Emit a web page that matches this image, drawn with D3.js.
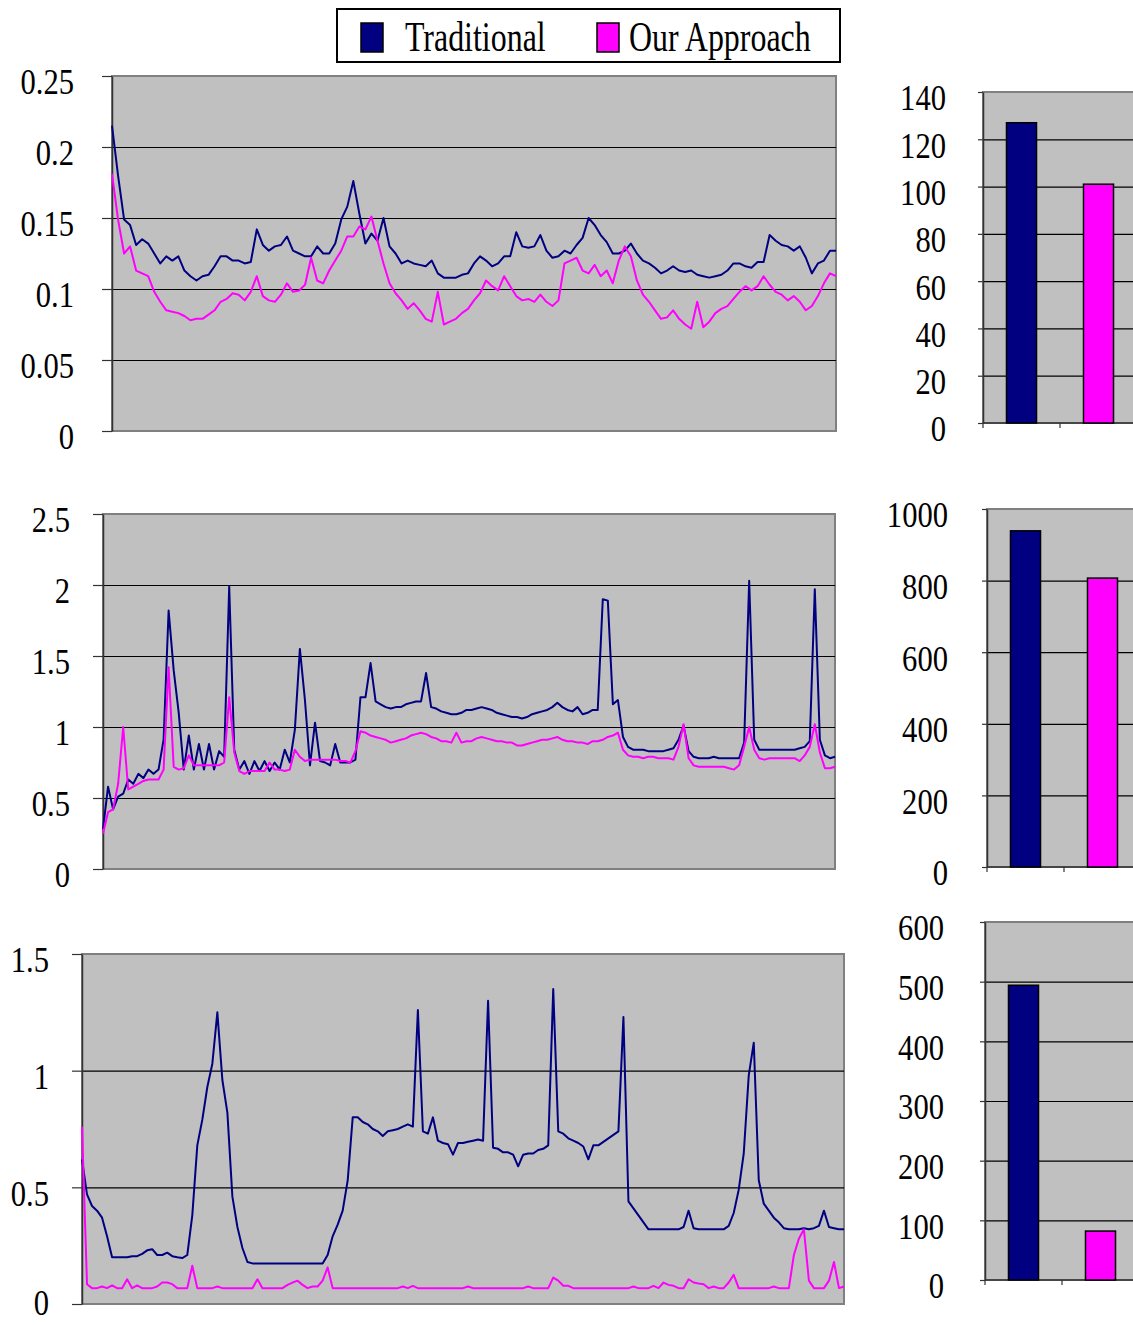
<!DOCTYPE html>
<html>
<head>
<meta charset="utf-8">
<script src="https://cdn.jsdelivr.net/npm/d3@7"></script>
<style>
  body { margin: 0; padding: 0; background: #fff; }
  text { font-family: "Liberation Serif", "Times New Roman", "DejaVu Serif", serif; fill: #000; }
</style>
</head>
<body>
<script>
// series names / colours for the legend
var seriesNames = ["Traditional", "Our Approach"];
var seriesColors = ["#000080", "#ff00ff"];

// top panel (0 - 0.25)
var trad1 = [0.215,0.18,0.149,0.145,0.131,0.135,0.132,0.125,0.118,0.123,
  0.12,0.123,0.113,0.109,0.106,0.109,0.11,0.116,0.123,0.123,
  0.12,0.12,0.118,0.119,0.142,0.131,0.127,0.13,0.131,0.137,
  0.127,0.125,0.123,0.123,0.13,0.125,0.125,0.132,0.149,0.158,
  0.176,0.153,0.132,0.139,0.134,0.15,0.13,0.125,0.118,0.12,
  0.118,0.117,0.116,0.12,0.111,0.108,0.108,0.108,0.11,0.111,
  0.118,0.123,0.12,0.116,0.118,0.123,0.123,0.14,0.13,0.129,
  0.13,0.138,0.127,0.122,0.123,0.127,0.125,0.131,0.136,0.15,
  0.145,0.138,0.133,0.125,0.125,0.127,0.132,0.125,0.12,0.118,
  0.115,0.111,0.113,0.116,0.113,0.112,0.113,0.11,0.109,0.108,
  0.109,0.11,0.113,0.118,0.118,0.116,0.115,0.119,0.119,0.138,
  0.134,0.131,0.13,0.127,0.13,0.122,0.111,0.118,0.12,0.127,
  0.127];
var ours1 = [0.181,0.149,0.125,0.13,0.113,0.111,0.109,0.098,0.091,0.085,
  0.084,0.083,0.081,0.078,0.079,0.079,0.082,0.085,0.091,0.093,
  0.097,0.096,0.092,0.098,0.109,0.095,0.092,0.091,0.096,0.104,
  0.098,0.099,0.103,0.122,0.106,0.104,0.113,0.12,0.127,0.137,
  0.137,0.144,0.142,0.151,0.134,0.118,0.104,0.097,0.092,0.086,
  0.09,0.085,0.079,0.077,0.098,0.075,0.077,0.079,0.083,0.086,
  0.092,0.097,0.106,0.102,0.099,0.109,0.102,0.095,0.092,0.093,
  0.091,0.096,0.091,0.088,0.092,0.118,0.12,0.122,0.113,0.111,
  0.117,0.109,0.113,0.104,0.12,0.13,0.123,0.106,0.096,0.091,
  0.085,0.079,0.08,0.085,0.079,0.075,0.072,0.091,0.073,0.077,
  0.083,0.086,0.088,0.093,0.098,0.102,0.099,0.102,0.109,0.103,
  0.098,0.096,0.092,0.095,0.091,0.085,0.088,0.095,0.104,0.111,
  0.109];
var ticks1 = [0, 0.05, 0.1, 0.15, 0.2, 0.25];

// middle panel (0 - 2.5)
var trad2 = [0.28,0.58,0.42,0.51,0.53,0.63,0.6,0.67,0.64,0.7,
  0.67,0.7,0.91,1.82,1.4,1.1,0.7,0.94,0.7,0.88,
  0.7,0.88,0.7,0.83,0.79,1.99,0.84,0.7,0.76,0.67,
  0.76,0.69,0.76,0.69,0.75,0.7,0.84,0.75,0.98,1.55,
  1.19,0.73,1.03,0.76,0.75,0.73,0.88,0.75,0.75,0.75,
  0.77,1.21,1.21,1.45,1.18,1.16,1.14,1.13,1.14,1.14,
  1.16,1.17,1.18,1.18,1.38,1.14,1.13,1.11,1.1,1.09,
  1.09,1.1,1.12,1.12,1.13,1.14,1.13,1.12,1.1,1.09,
  1.08,1.07,1.07,1.06,1.07,1.09,1.1,1.11,1.12,1.14,
  1.17,1.14,1.12,1.11,1.14,1.09,1.1,1.12,1.12,1.9,
  1.89,1.16,1.19,0.93,0.86,0.84,0.84,0.84,0.83,0.83,
  0.83,0.83,0.84,0.85,0.91,1.01,0.83,0.79,0.78,0.78,
  0.78,0.79,0.78,0.78,0.78,0.78,0.78,0.89,2.03,0.91,
  0.84,0.84,0.84,0.84,0.84,0.84,0.84,0.84,0.85,0.86,
  0.9,1.97,0.91,0.8,0.78,0.79];
var ours2 = [0.25,0.4,0.42,0.6,1.0,0.56,0.58,0.6,0.62,0.63,
  0.63,0.63,0.7,1.42,0.72,0.7,0.71,0.8,0.73,0.73,
  0.73,0.73,0.73,0.73,0.75,1.21,0.82,0.69,0.67,0.69,
  0.69,0.69,0.69,0.75,0.7,0.7,0.69,0.7,0.84,0.79,
  0.76,0.77,0.77,0.77,0.77,0.77,0.77,0.76,0.76,0.75,
  0.83,0.97,0.96,0.94,0.93,0.92,0.91,0.89,0.9,0.91,
  0.92,0.94,0.95,0.96,0.95,0.93,0.92,0.9,0.9,0.89,
  0.96,0.89,0.9,0.9,0.92,0.93,0.92,0.91,0.9,0.9,
  0.89,0.89,0.87,0.87,0.88,0.89,0.9,0.91,0.91,0.92,
  0.93,0.91,0.9,0.9,0.89,0.89,0.88,0.9,0.9,0.91,
  0.93,0.94,0.96,0.84,0.8,0.79,0.79,0.78,0.79,0.79,
  0.78,0.78,0.78,0.77,0.86,1.02,0.78,0.73,0.72,0.72,
  0.72,0.72,0.72,0.72,0.71,0.7,0.73,0.86,1.0,0.84,
  0.78,0.77,0.78,0.78,0.78,0.78,0.78,0.78,0.76,0.8,
  0.86,1.02,0.82,0.71,0.71,0.72];
var ticks2 = [0, 0.5, 1, 1.5, 2, 2.5];

// bottom panel (0 - 1.5)
var trad3 = [0.62,0.47,0.42,0.4,0.37,0.29,0.2,0.2,0.2,0.2,
  0.205,0.205,0.215,0.23,0.235,0.21,0.21,0.22,0.205,0.2,
  0.197,0.21,0.38,0.68,0.79,0.93,1.03,1.25,0.96,0.82,
  0.46,0.33,0.24,0.18,0.174,0.174,0.174,0.174,0.174,0.174,
  0.174,0.174,0.174,0.174,0.174,0.174,0.174,0.174,0.174,0.21,
  0.29,0.34,0.4,0.53,0.8,0.8,0.78,0.77,0.75,0.74,
  0.72,0.74,0.745,0.75,0.76,0.77,0.76,1.26,0.74,0.73,
  0.8,0.7,0.69,0.685,0.64,0.69,0.69,0.695,0.7,0.705,
  0.7,1.3,0.67,0.665,0.65,0.65,0.64,0.59,0.64,0.645,
  0.645,0.66,0.665,0.68,1.35,0.74,0.73,0.71,0.7,0.69,
  0.675,0.62,0.68,0.68,0.695,0.71,0.725,0.74,1.23,0.44,
  0.41,0.38,0.35,0.32,0.32,0.32,0.32,0.32,0.32,0.32,
  0.33,0.4,0.325,0.32,0.32,0.32,0.32,0.32,0.32,0.335,
  0.39,0.49,0.645,0.98,1.12,0.53,0.43,0.4,0.37,0.35,
  0.325,0.32,0.32,0.32,0.325,0.32,0.325,0.335,0.4,0.33,
  0.325,0.32,0.32];
var ours3 = [0.76,0.085,0.068,0.068,0.075,0.068,0.08,0.068,0.068,0.106,
  0.068,0.08,0.068,0.068,0.068,0.075,0.092,0.092,0.085,0.068,
  0.068,0.068,0.164,0.068,0.068,0.068,0.068,0.075,0.068,0.068,
  0.068,0.068,0.068,0.068,0.068,0.106,0.068,0.068,0.068,0.068,
  0.068,0.082,0.092,0.1,0.082,0.068,0.075,0.075,0.1,0.157,
  0.068,0.068,0.068,0.068,0.068,0.068,0.068,0.068,0.068,0.068,
  0.068,0.068,0.068,0.068,0.075,0.068,0.078,0.068,0.068,0.068,
  0.068,0.068,0.068,0.068,0.068,0.068,0.068,0.075,0.068,0.068,
  0.068,0.068,0.068,0.068,0.068,0.068,0.068,0.068,0.068,0.075,
  0.068,0.068,0.068,0.068,0.113,0.1,0.078,0.078,0.068,0.068,
  0.068,0.068,0.068,0.068,0.068,0.068,0.068,0.068,0.068,0.068,
  0.075,0.068,0.068,0.068,0.078,0.068,0.092,0.082,0.078,0.068,
  0.068,0.106,0.092,0.088,0.085,0.068,0.075,0.068,0.068,0.092,
  0.125,0.068,0.068,0.068,0.068,0.068,0.068,0.068,0.075,0.068,
  0.068,0.068,0.21,0.28,0.32,0.1,0.068,0.068,0.068,0.1,
  0.18,0.068,0.075];
var ticks3 = [0, 0.5, 1, 1.5];

// bar totals
var barCats = ["Traditional", "Our Approach"];
var bars1 = [127, 101];
var bars2 = [939, 807];
var bars3 = [494, 82];
var barTicks1 = [0, 20, 40, 60, 80, 100, 120, 140];
var barTicks2 = [0, 200, 400, 600, 800, 1000];
var barTicks3 = [0, 100, 200, 300, 400, 500, 600];

var W = 1133, H = 1325;
var svg = d3.select("body").append("svg")
  .attr("width", W).attr("height", H)
  .style("display", "block");
svg.append("rect").attr("width", W).attr("height", H).attr("fill", "#fff");

var FS = 36, SX = 0.85;   // squeezed Times look of the original

function label(g, x, y, txt) {
  g.append("text")
    .attr("transform", "translate(" + x + "," + y + ") scale(" + SX + ",1)")
    .attr("text-anchor", "end")
    .attr("dominant-baseline", "central")
    .style("font-size", FS + "px")
    .text(txt);
}

function yAxisStuff(g, y, ticks, left, right, labelX) {
  // gridlines (inner ones only, top/bottom are border)
  g.append("g")
    .selectAll("line")
    .data(ticks.slice(1, -1))
    .join("line")
    .attr("x1", left).attr("x2", right)
    .attr("y1", function(d){ return y(d) + 0.5; })
    .attr("y2", function(d){ return y(d) + 0.5; })
    .attr("stroke", "#000").attr("stroke-width", 1.2);

  var ax = g.append("g")
    .attr("transform", "translate(" + left + ",0)")
    .call(d3.axisLeft(y).tickValues(ticks).tickSize(10).tickSizeOuter(0).tickFormat(""));
  ax.select(".domain").attr("stroke", "#333").attr("stroke-width", 1.5);
  ax.selectAll(".tick line").attr("stroke", "#333").attr("stroke-width", 1.2);

  // keep the lowest label inside the page
  ticks.forEach(function(t){ label(g, labelX, Math.min(y(t) + 6, H - 22), String(t)); });
}

function linePanel(cfg) {
  var g = svg.append("g");
  var n = cfg.series[0].values.length;
  var x = d3.scaleLinear().domain([0, n - 1]).range([cfg.left, cfg.right]);
  var y = d3.scaleLinear().domain([0, cfg.max]).range([cfg.bottom, cfg.top]);

  g.append("rect")
    .attr("x", cfg.left).attr("y", cfg.top)
    .attr("width", cfg.right - cfg.left).attr("height", cfg.bottom - cfg.top)
    .attr("fill", "#c0c0c0").attr("stroke", "#808080").attr("stroke-width", 2);

  yAxisStuff(g, y, cfg.ticks, cfg.left, cfg.right, cfg.labelX);

  var line = d3.line()
    .x(function(d, i){ return x(i); })
    .y(function(d){ return y(d); });

  cfg.series.forEach(function(s){
    g.append("path")
      .datum(s.values)
      .attr("d", line)
      .attr("fill", "none")
      .attr("stroke", s.color)
      .attr("stroke-width", 2)
      .attr("stroke-linejoin", "round");
  });
}

function barPanel(cfg) {
  var g = svg.append("g");
  var step = 77;
  var xb = d3.scaleBand().domain(barCats)
    .range([cfg.left, cfg.left + step * barCats.length])
    .paddingInner(0.61).paddingOuter(0.305);
  var y = d3.scaleLinear().domain([0, cfg.max]).range([cfg.bottom, cfg.top]);

  g.append("rect")
    .attr("x", cfg.left).attr("y", cfg.top)
    .attr("width", W - cfg.left + 20).attr("height", cfg.bottom - cfg.top)
    .attr("fill", "#c0c0c0").attr("stroke", "#808080").attr("stroke-width", 2);

  yAxisStuff(g, y, cfg.ticks, cfg.left, W + 20, cfg.labelX);
  g.selectAll(".tick line").attr("x2", -5);

  // bottom axis + category separators
  g.append("line")
    .attr("x1", cfg.left).attr("x2", W)
    .attr("y1", cfg.bottom).attr("y2", cfg.bottom)
    .attr("stroke", "#333").attr("stroke-width", 1.5);
  g.selectAll("line.cat")
    .data(d3.range(barCats.length + 1))
    .join("line")
    .attr("class", "cat")
    .attr("x1", function(d){ return cfg.left + d * xb.step(); })
    .attr("x2", function(d){ return cfg.left + d * xb.step(); })
    .attr("y1", cfg.bottom).attr("y2", cfg.bottom + 5)
    .attr("stroke", "#333").attr("stroke-width", 1.2);

  g.selectAll("rect.bar")
    .data(cfg.values)
    .join("rect")
    .attr("class", "bar")
    .attr("x", function(d, i){ return xb(barCats[i]); })
    .attr("width", xb.bandwidth())
    .attr("y", function(d){ return y(d); })
    .attr("height", function(d){ return cfg.bottom - y(d); })
    .attr("fill", function(d, i){ return seriesColors[i]; })
    .attr("stroke", "#000").attr("stroke-width", 1.5);
}

// legend
var lg = svg.append("g");
lg.append("rect").attr("x", 337).attr("y", 9).attr("width", 503).attr("height", 53)
  .attr("fill", "#fff").attr("stroke", "#000").attr("stroke-width", 2);
var legX = [[361, 405], [597, 629]];
seriesNames.forEach(function(name, i){
  lg.append("rect").attr("x", legX[i][0]).attr("y", 23).attr("width", 22).attr("height", 29)
    .attr("fill", seriesColors[i]).attr("stroke", "#000").attr("stroke-width", 1.5);
  lg.append("text")
    .attr("transform", "translate(" + legX[i][1] + ",51) scale(0.76,1)")
    .style("font-size", "42px")
    .text(name);
});

linePanel({left: 112, right: 836, top: 76, bottom: 431, max: 0.25, ticks: ticks1, labelX: 74,
  series: [{values: trad1, color: seriesColors[0]}, {values: ours1, color: seriesColors[1]}]});
linePanel({left: 103, right: 835, top: 514, bottom: 869, max: 2.5, ticks: ticks2, labelX: 70,
  series: [{values: trad2, color: seriesColors[0]}, {values: ours2, color: seriesColors[1]}]});
linePanel({left: 82, right: 844, top: 954, bottom: 1304, max: 1.5, ticks: ticks3, labelX: 49,
  series: [{values: trad3, color: seriesColors[0]}, {values: ours3, color: seriesColors[1]}]});

barPanel({left: 983, top: 92, bottom: 423, max: 140, ticks: barTicks1, labelX: 946, values: bars1});
barPanel({left: 987, top: 509, bottom: 867, max: 1000, ticks: barTicks2, labelX: 948, values: bars2});
barPanel({left: 985, top: 922, bottom: 1280, max: 600, ticks: barTicks3, labelX: 944, values: bars3});
</script>
</body>
</html>
